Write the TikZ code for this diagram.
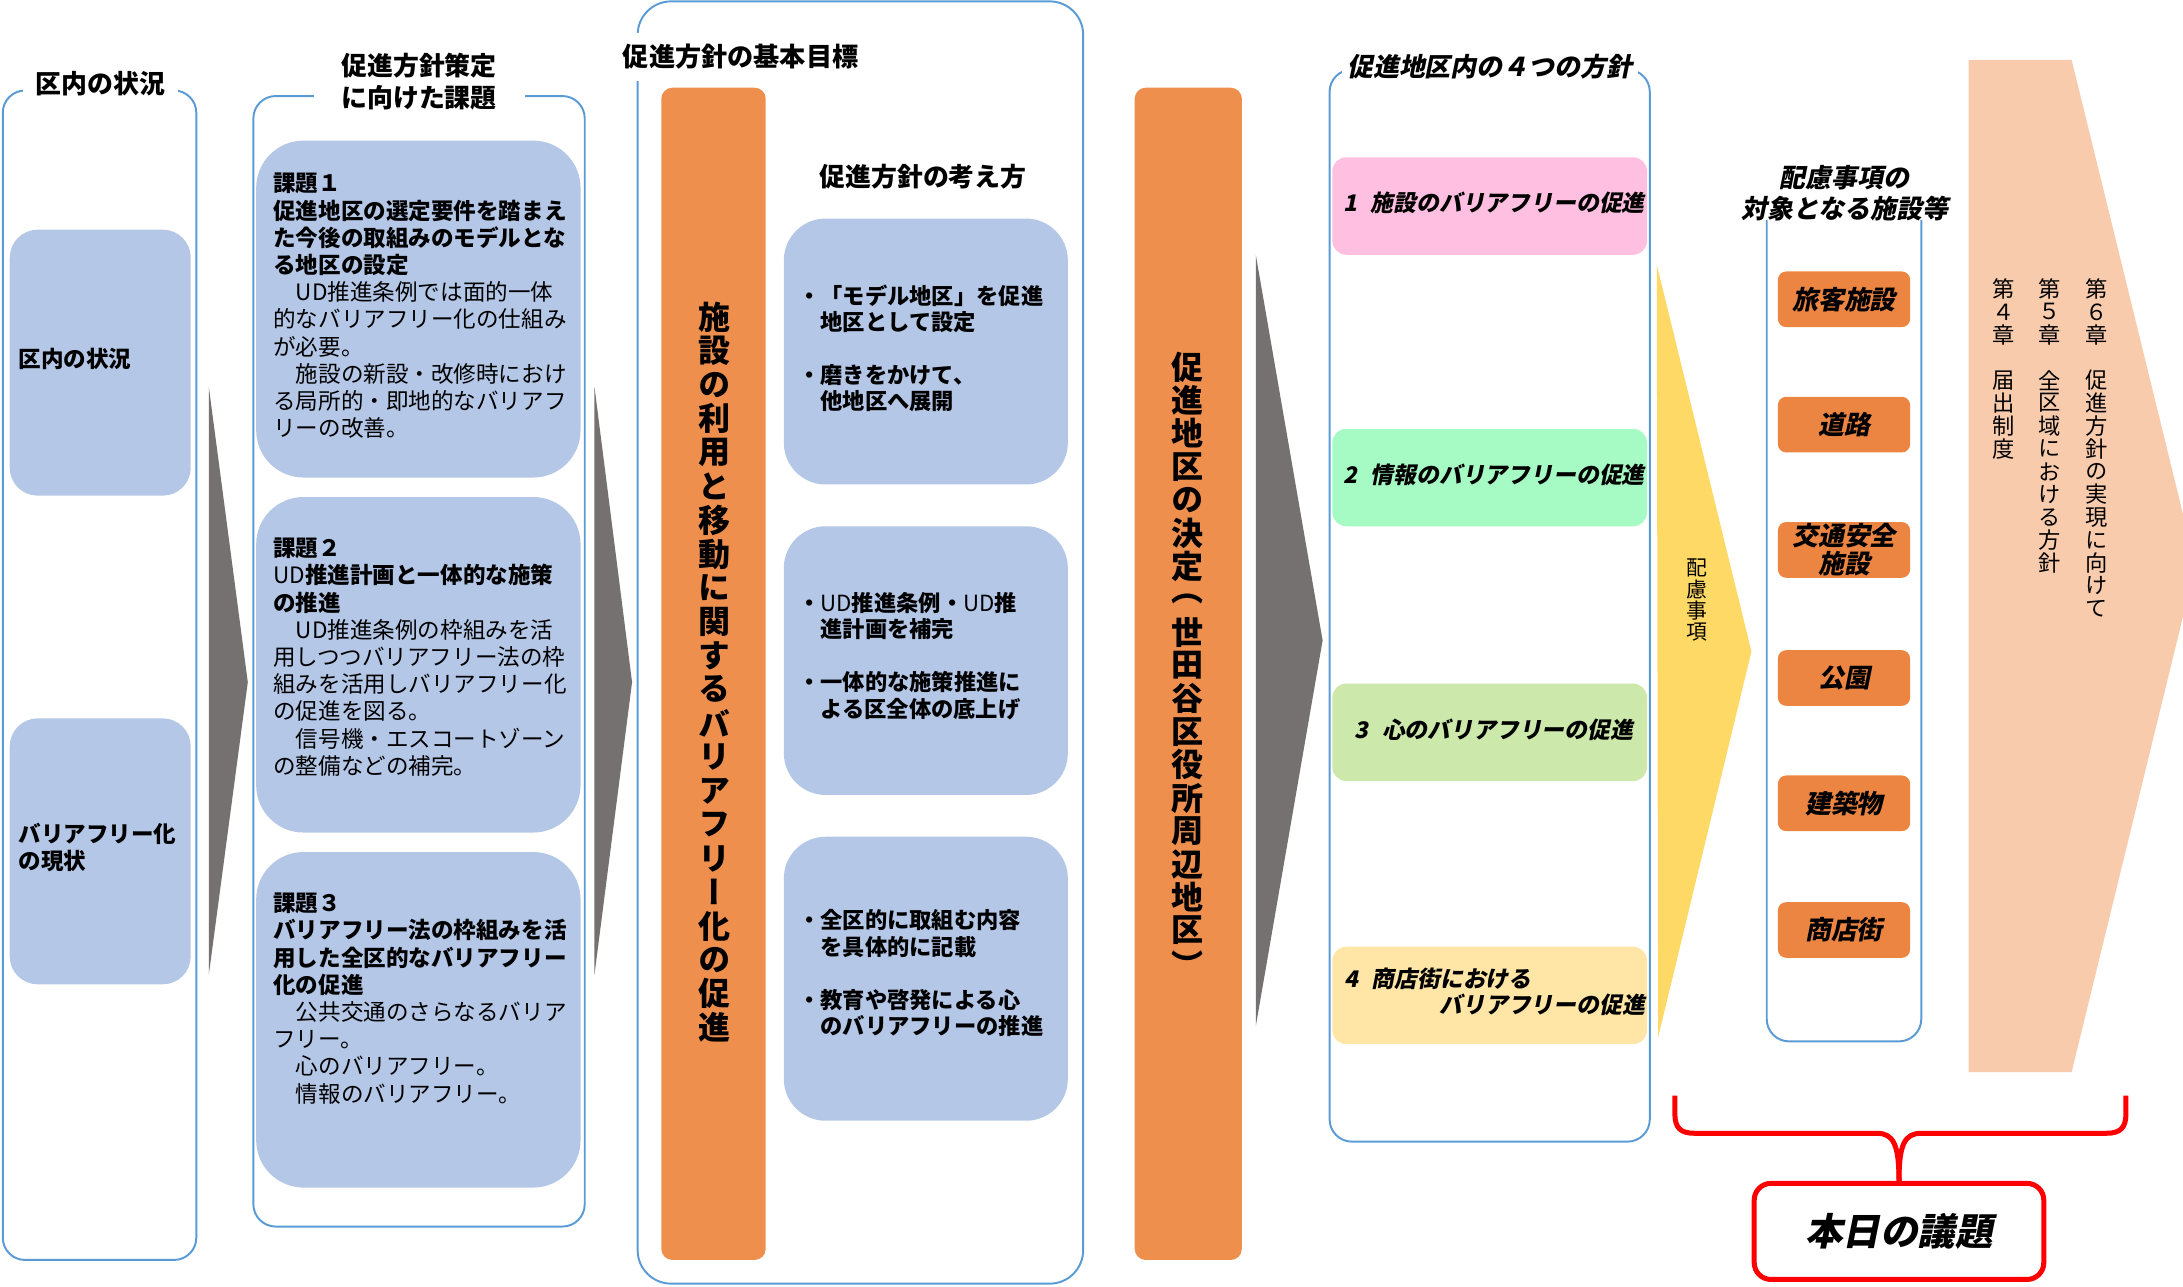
\documentclass[tikz,border=0pt]{standalone}
\usepackage{fontspec}
\setmainfont{Noto Sans CJK JP}
\newfontfamily\jpv[RawFeature=+vert]{Noto Sans CJK JP}
\newfontfamily\jpsl[FakeSlant=0.2]{Noto Sans CJK JP}
\newdimen\vpitch
\makeatletter
\newcommand\vstk[1]{\vbox{\offinterlineskip\vstk@#1\relax}}
\def\vstk@#1{\ifx\relax#1\else\vbox to\vpitch{\vss\hbox to 1em{\hss#1\hss}\vss}\expandafter\vstk@\fi}
\makeatother
\definecolor{obl}{RGB}{91,155,213}
\definecolor{bfill}{RGB}{180,199,231}
\definecolor{gry}{RGB}{118,113,113}
\definecolor{orbar}{RGB}{239,143,78}
\definecolor{orbtn}{RGB}{237,133,66}
\definecolor{pinkf}{RGB}{255,191,224}
\definecolor{mint}{RGB}{166,250,196}
\definecolor{lgreen}{RGB}{204,232,170}
\definecolor{lyel}{RGB}{255,230,166}
\definecolor{gold}{RGB}{255,217,102}
\definecolor{salmon}{RGB}{248,203,173}
\begin{document}
\begin{tikzpicture}[x=0.5pt,y=-0.5pt,
  outer/.style={draw=obl,line width=0.7pt,rounded corners=8pt},
  ttl/.style={font=\bfseries\fontsize{9.3}{11.5}\selectfont,fill=white,inner sep=2pt},
  ttlsl/.style={font=\jpsl\bfseries\fontsize{9.3}{11}\selectfont,fill=white,inner sep=2pt,align=center},
  body/.style={font=\fontsize{8.1}{9.78}\selectfont,align=left,inner sep=0pt,anchor=north west},
  ptxt/.style={font=\bfseries\fontsize{8}{9.5}\selectfont,align=left,inner sep=0pt,anchor=north west},
  pol/.style={rounded corners=5pt,draw=none,minimum width=113pt,minimum height=35pt,inner sep=0pt},
  pitem/.style={font=\jpsl\bfseries\fontsize{8.2}{9.5}\selectfont,inner sep=0pt},
  btn/.style={fill=orbtn,rounded corners=3pt,minimum width=47.5pt,minimum height=20pt,font=\jpsl\bfseries\fontsize{9.3}{10}\selectfont,inner sep=0pt,align=center},
  bar/.style={fill=orbar,rounded corners=4pt,minimum height=421pt,inner sep=0pt},
  vbig/.style={font=\jpv\bfseries\fontsize{11.5}{12}\selectfont,inner sep=0pt},
  vsmall/.style={font=\jpv\fontsize{8}{8}\selectfont,inner sep=0pt,anchor=north},
  ]
\useasboundingbox (0,0) rectangle (1568,924);
\clip (0,0) rectangle (1568,924);

% ---------- column 1 ----------
\draw[outer] (2,65) rectangle (141,905);
\node[ttl,inner xsep=4.5pt] (t1) at (72,60) {区内の状況};
\fill[bfill,rounded corners=10pt] (7,165) rectangle (137,356);
\fill[bfill,rounded corners=10pt] (7,516) rectangle (137,707);
\node[font=\bfseries\fontsize{8.1}{9.5}\selectfont,anchor=west,inner sep=0pt] (c1a) at (13,258) {区内の状況};
\node[font=\bfseries\fontsize{8.1}{9.5}\selectfont,anchor=north west,align=left,inner sep=0pt] (c1b) at (13,591) {バリアフリー化\\の現状};
\fill[gry] (150,278) -- (178,490) -- (150,700) -- cycle;

% ---------- column 2 ----------
\draw[outer] (182,69) rectangle (420,881);
\node[ttl,inner xsep=10pt,align=center] (t2) at (301,58.5) {促進方針策定\\に向けた課題};
\fill[bfill,rounded corners=17pt] (184,101) rectangle (417,343);
\fill[bfill,rounded corners=17pt] (184,357) rectangle (417,598);
\fill[bfill,rounded corners=17pt] (184,612) rectangle (417,853);
\node[body] (k1) at (196,124) {\textbf{課題１}\\
\textbf{促進地区の選定要件を踏まえ}\\
\textbf{た今後の取組みのモデルとな}\\
\textbf{る地区の設定}\\
　UD推進条例では面的一体\\
的なバリアフリー化の仕組み\\
が必要。\\
　施設の新設・改修時におけ\\
る局所的・即地的なバリアフ\\
リーの改善。};
\node[body] (k2) at (196,386) {\textbf{課題２}\\
UD\textbf{推進計画と一体的な施策}\\
\textbf{の推進}\\
　UD推進条例の枠組みを活\\
用しつつバリアフリー法の枠\\
組みを活用しバリアフリー化\\
の促進を図る。\\
　信号機・エスコートゾーン\\
の整備などの補完。};
\node[body] (k3) at (196,641) {\textbf{課題３}\\
\textbf{バリアフリー法の枠組みを活}\\
\textbf{用した全区的なバリアフリー}\\
\textbf{化の促進}\\
　公共交通のさらなるバリア\\
フリー。\\
　心のバリアフリー。\\
　情報のバリアフリー。};
\fill[gry] (427,278) -- (454,490) -- (427,700) -- cycle;

% ---------- column 3 ----------
\draw[outer,rounded corners=12pt] (458,1) rectangle (778,922);
\node[font=\bfseries\fontsize{9.4}{11}\selectfont,fill=white,anchor=west,inner xsep=1pt,inner ysep=4pt] (t3) at (445,41) {促進方針の基本目標};
\node[bar,minimum width=37.5pt] (bar1) at (512.5,484) {};
\node[vbig] (v1) at (513,483) {\setlength\vpitch{12.15pt}\vstk{施設の利用と移動に関するバリアフリー化の促進}};
\node[font=\bfseries\fontsize{9.3}{11}\selectfont,inner sep=0pt] (st3) at (663,127) {促進方針の考え方};
\fill[bfill,rounded corners=15pt] (563,157) rectangle (767,348);
\fill[bfill,rounded corners=15pt] (563,378) rectangle (767,571);
\fill[bfill,rounded corners=15pt] (563,601) rectangle (767,805);
\node[ptxt] (pa) at (573,204) {・「モデル地区」を促進\\\hspace*{1em}地区として設定\\[9.5pt]・磨きをかけて、\\\hspace*{1em}他地区へ展開};
\node[ptxt] (pb) at (573,425) {・{\mdseries UD}推進条例・{\mdseries UD}推\\\hspace*{1em}進計画を補完\\[9.5pt]・一体的な施策推進に\\\hspace*{1em}よる区全体の底上げ};
\node[ptxt] (pc) at (573,653) {・全区的に取組む内容\\\hspace*{1em}を具体的に記載\\[9.5pt]・教育や啓発による心\\\hspace*{1em}のバリアフリーの推進};

% ---------- orange bar 2 ----------
\node[bar,minimum width=38.5pt] (bar2) at (853.5,484) {};
\node[vbig] (v2) at (853,478) {\setlength\vpitch{11.9pt}\vstk{促進地区の決定（世田谷区役所周辺地区）}};
\fill[gry] (902,183) -- (950,460) -- (902,737) -- cycle;

% ---------- column 4 ----------
\draw[outer] (955,50) rectangle (1185,820);
\node[ttlsl] (t4) at (1070,48) {促進地区内の４つの方針};
\node[pol,fill=pinkf] (p1) at (1070,148) {};
\node[pol,fill=mint] (p2) at (1070,343) {};
\node[pol,fill=lgreen] (p3) at (1070,526) {};
\node[pol,fill=lyel] (p4) at (1070,715) {};
\node[pitem] (i1) at (1073,146) {1\hspace{0.6em}施設のバリアフリーの促進};
\node[pitem] (i2) at (1073,341) {2\hspace{0.6em}情報のバリアフリーの促進};
\node[pitem] (i3) at (1073,524) {3\hspace{0.6em}心のバリアフリーの促進};
\node[pitem,anchor=west] (i4a) at (965,703) {4\hspace{0.6em}商店街における};
\node[pitem,anchor=east] (i4b) at (1182,722) {バリアフリーの促進};

% ---------- yellow arrow ----------
\fill[gold] (1190,190) -- (1258,468) -- (1191,745) -- cycle;
\node[font=\jpv\fontsize{7.5}{8}\selectfont,inner sep=0pt] (hr) at (1219,431) {\setlength\vpitch{7.75pt}\vstk{配慮事項}};

% ---------- column 5 ----------
\draw[outer] (1269,158) -- (1269,748) -- (1380,748) -- (1380,158);
\node[ttlsl,fill=none] (t5) at (1325,139) {配慮事項の\\対象となる施設等};
\node[btn] (b1) at (1324.5,215) {旅客施設};
\node[btn] (b2) at (1324.5,305) {道路};
\node[btn] (b3) at (1324.5,395) {交通安全\\施設};
\node[btn] (b4) at (1324.5,487) {公園};
\node[btn] (b5) at (1324.5,577) {建築物};
\node[btn] (b6) at (1324.5,668) {商店街};

% ---------- salmon arrow ----------
\fill[salmon] (1414,43) -- (1488,43) -- (1577,406) -- (1488,770) -- (1414,770) -- cycle;
\node[vsmall] (ch6) at (1506,199) {\setlength\vpitch{8.2pt}\vstk{第６章　促進方針の実現に向けて}};
\node[vsmall] (ch5) at (1472,199) {\setlength\vpitch{8.2pt}\vstk{第５章　全区域における方針}};
\node[vsmall] (ch4) at (1439,199) {\setlength\vpitch{8.2pt}\vstk{第４章　届出制度}};

% ---------- brace and today box ----------
\node[draw=red,line width=1.8pt,rounded corners=6pt,minimum width=104pt,minimum height=34.5pt,inner sep=0pt,font=\jpsl\bfseries\fontsize{13.5}{14}\selectfont] (today) at (1364,884.5) {本日の議題};
\draw[red,line width=1.8pt] (1203,787) -- (1203,800) .. controls (1203,810) and (1207,814) .. (1217,814) -- (1348,814) .. controls (1360,814) and (1364,822) .. (today.north);
\draw[red,line width=1.8pt] (1527,787) -- (1527,800) .. controls (1527,810) and (1523,814) .. (1513,814) -- (1380,814) .. controls (1368,814) and (1364,822) .. (today.north);
\end{tikzpicture}
\end{document}
